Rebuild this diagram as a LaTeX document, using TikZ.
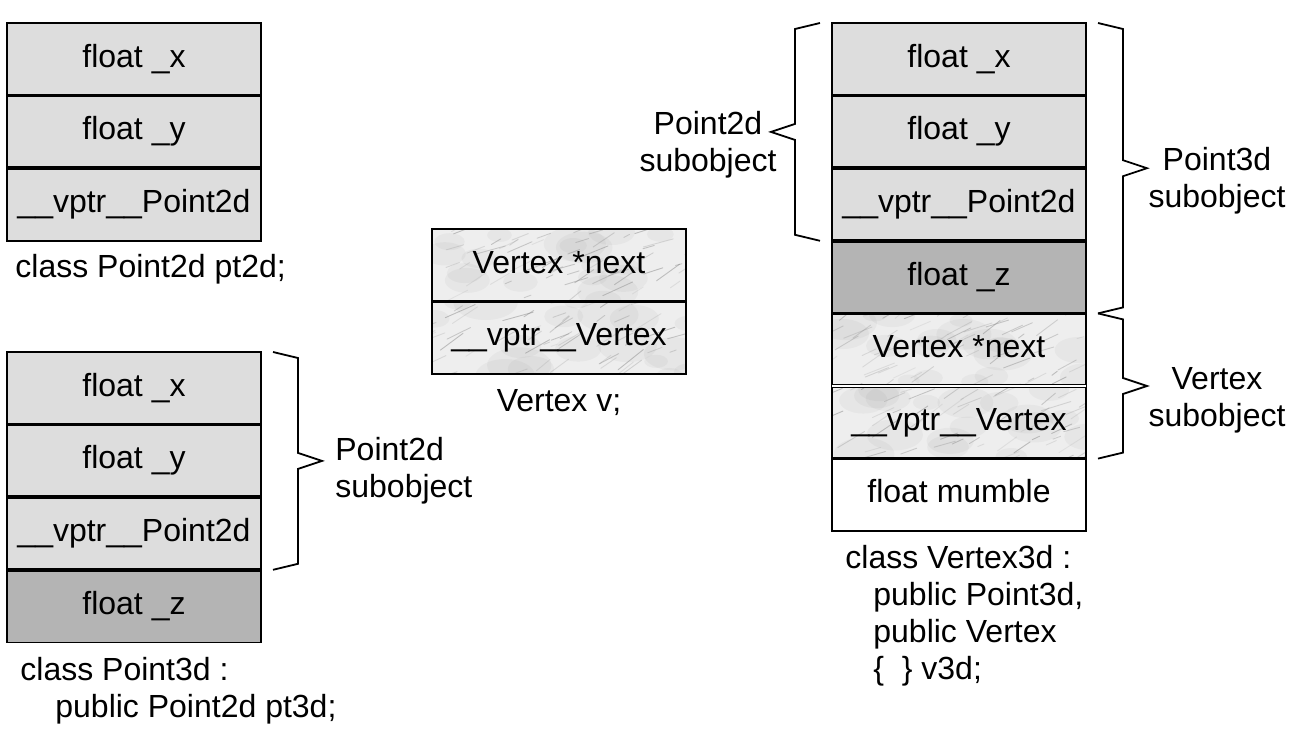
\documentclass[tikz,border=0pt]{standalone}
\usepackage{fontspec}
\setmainfont{Liberation Sans}
\usetikzlibrary{calc}

\definecolor{zellhell}{RGB}{221,221,221}
\definecolor{zelldunkel}{RGB}{180,180,180}
\definecolor{marmorgrund}{RGB}{238,238,238}

% Marmor-Struktur fuer die Vertex-Felder
\newcommand{\marmorstriche}{%
	\foreach \k in {1,...,18}{%
		\pgfmathsetmacro\mx{130*rnd}%
		\pgfmathsetmacro\my{38*rnd}%
		\pgfmathsetmacro\mr{3+6*rnd}%
		\fill[gray, opacity=0.07]
			($(path picture bounding box.north west)+(\mx pt,-\my pt)$) ellipse[x radius=1.8*\mr pt, y radius=\mr pt];
	}
	\foreach \k in {1,...,60}{%
		\pgfmathsetmacro\mx{-15+145*rnd}%
		\pgfmathsetmacro\my{40*rnd}%
		\pgfmathsetmacro\ml{3+14*rnd}%
		\pgfmathsetmacro\ma{15+25*rnd}%
		\pgfmathsetmacro\mo{0.12+0.35*rnd}%
		\draw[gray, line width=0.45pt, opacity=\mo, line cap=round]
			($(path picture bounding box.north west)+(\mx pt,-\my pt)$) -- ++(\ma:\ml pt);
	}}

% Klammern neben den Teilobjekten
\newcommand{\klammerrechts}[2]{%
	\draw[klammer] let \p1=(#1.north east), \p2=(#2.south east), \n1={0.5*(\y1+\y2)} in
		(\x1+6pt,\y1) -- (\x1+18.5pt,\y1-3pt) -- (\x1+18.5pt,\n1+4pt) -- (\x1+30.5pt,\n1)
		-- (\x1+18.5pt,\n1-4pt) -- (\x1+18.5pt,\y2+3pt) -- (\x1+6pt,\y2);}
\newcommand{\klammerlinks}[2]{%
	\draw[klammer] let \p1=(#1.north west), \p2=(#2.south west), \n1={0.5*(\y1+\y2)} in
		(\x1-6pt,\y1) -- (\x1-18.5pt,\y1-3pt) -- (\x1-18.5pt,\n1+4pt) -- (\x1-30.5pt,\n1)
		-- (\x1-18.5pt,\n1-4pt) -- (\x1-18.5pt,\y2+3pt) -- (\x1-6pt,\y2);}

\tikzset{
	zelle/.style={draw, line width=0.9pt, minimum width=127pt, minimum height=36.3pt,
		inner sep=0pt, outer sep=0pt, anchor=north, text height=0.84em, text depth=0.05em},
	hell/.style={zelle, fill=zellhell},
	dunkel/.style={zelle, fill=zelldunkel},
	leer/.style={zelle, fill=white},
	marmor/.style={zelle, fill=marmorgrund, path picture={\marmorstriche}},
	trenner/.style={line width=1.8pt},
	doppel/.style={double, double distance=0.7pt, line width=0.5pt},
	klammer/.style={line width=0.9pt, line join=miter},
	beschrift/.style={inner sep=0pt, anchor=base west, align=left}
}

\begin{document}
\begin{tikzpicture}[x=0.5pt, y=-0.5pt, font=\fontsize{16pt}{18.5pt}\selectfont]
	\pgfmathsetseed{11}
	\useasboundingbox (0,0) rectangle (1313,750);
	
	
	% Objekt pt2d
	\node[hell] (a1) at (134,23) {float \_x};
	\node[hell] (a2) at (134,95.6) {float \_y};
	\node[hell] (a3) at (134,168.2) {\_\_vptr\_\_Point2d};
	\draw[trenner] (a1.south west) -- (a1.south east);
	\draw[trenner] (a2.south west) -- (a2.south east);
	
	\node[beschrift] (ka) at (15,277) {class Point2d pt2d;};
	
	
	% Objekt pt3d
	\node[hell] (b1) at (134,352) {float \_x};
	\node[hell] (b2) at (134,424.6) {float \_y};
	\node[hell] (b3) at (134,497.2) {\_\_vptr\_\_Point2d};
	\node[dunkel] (b4) at (134,569.8) {float \_z};
	\draw[trenner] (b1.south west) -- (b1.south east);
	\draw[trenner] (b2.south west) -- (b2.south east);
	\draw[trenner] (b3.south west) -- (b3.south east);
	
	\klammerrechts{b1}{b3}
	\node[beschrift] (lb) at (335,497) {Point2d\\subobject};
	
	\node[beschrift] (kb) at (20,717) {class Point3d :\\\hspace*{17.5pt}public Point2d pt3d;};
	
	
	% Objekt v
	\node[marmor] (c1) at (559,229) {Vertex *next};
	\node[marmor] (c2) at (559,301.6) {\_\_vptr\_\_Vertex};
	\draw[trenner] (c1.south west) -- (c1.south east);
	
	\node[beschrift, anchor=base] (kc) at (559,411) {Vertex v;};
	
	
	% Objekt v3d
	\node[hell] (d1) at (959,23) {float \_x};
	\node[hell] (d2) at (959,95.6) {float \_y};
	\node[hell] (d3) at (959,168.2) {\_\_vptr\_\_Point2d};
	\node[dunkel] (d4) at (959,240.8) {float \_z};
	\node[marmor] (d5) at (959,313.4) {Vertex *next};
	\node[marmor] (d6) at (959,386) {\_\_vptr\_\_Vertex};
	\node[leer] (d7) at (959,458.6) {float mumble};
	\draw[trenner] (d1.south west) -- (d1.south east);
	\draw[trenner] (d2.south west) -- (d2.south east);
	\draw[trenner] (d3.south west) -- (d3.south east);
	\draw[trenner] (d4.south west) -- (d4.south east);
	\draw[doppel] (d5.south west) -- (d5.south east);
	\draw[trenner] (d6.south west) -- (d6.south east);
	
	% Teilobjekte beschriften
	\klammerlinks{d1}{d3}
	\klammerrechts{d1}{d4}
	\klammerrechts{d5}{d6}
	\node[beschrift, anchor=base, align=center] (ld1) at (708,171) {Point2d\\subobject};
	\node[beschrift, anchor=base, align=center] (ld2) at (1217,207) {Point3d\\subobject};
	\node[beschrift, anchor=base, align=center] (ld3) at (1217,426) {Vertex\\subobject};
	
	\node[beschrift] (kd) at (845,679) {class Vertex3d :\\\hspace*{14pt}public Point3d,\\\hspace*{14pt}public Vertex\\\hspace*{14pt}\{\ \ \} v3d;};
	
	
\end{tikzpicture}
\end{document}
